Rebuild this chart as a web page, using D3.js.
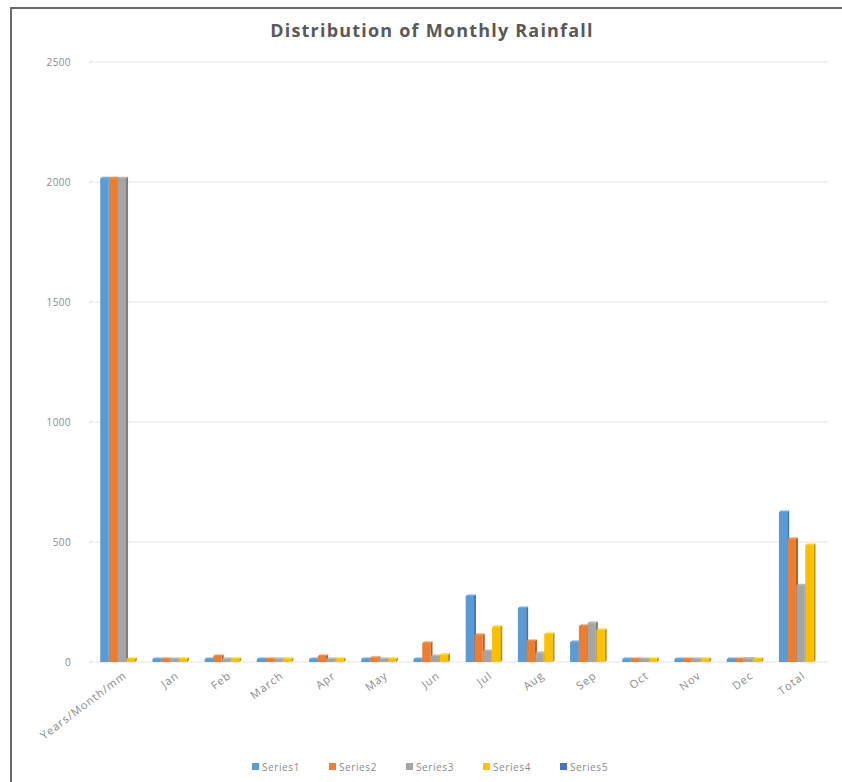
<!DOCTYPE html>
<html>
<head>
<title>Distribution of Monthly Rainfall</title>
<script src="https://cdnjs.cloudflare.com/ajax/libs/d3/7.8.5/d3.min.js"></script>
<style>
 body { margin: 0; background: #fff; }
 text { font-family: "Open Sans", "Liberation Sans", sans-serif; }
</style>
</head>
<body>
<svg id="chart" width="842" height="782"></svg>
<script>
// data
var categories = ["Years/Month/mm", "Jan", "Feb", "March", "Apr", "May", "Jun",
                  "Jul", "Aug", "Sep", "Oct", "Nov", "Dec", "Total"];
var seriesNames = ["Series1", "Series2", "Series3", "Series4", "Series5"];
var series1 = [2016, 3, 12, 8, 3, 12, 3, 275, 225, 83, 3, 2, 3, 625];
var series2 = [2016, 3, 25, 8, 25, 18, 79, 112, 88, 150, 3, 2, 3, 512];
var series3 = [2016, 8, 5, 3, 10, 3, 25, 46, 37, 162, 12, 2, 15, 320];
var series4 = [3, 5, 13, 6, 10, 6, 30, 146, 117, 133, 6, 2, 8, 487];
var series5 = [0, 0, 0, 0, 0, 0, 0, 0, 0, 0, 0, 0, 0, 0];
var yTicks = [0, 500, 1000, 1500, 2000, 2500];
var colors = ["#5b9bd5", "#ed7d31", "#a5a5a5", "#ffc000", "#4472c4"];

var allSeries = [series1, series2, series3, series4, series5];

var svg = d3.select("#chart");

// frame
svg.append("path")
  .attr("d", "M11,782 V8 H842")
  .attr("fill", "none")
  .attr("stroke", "#6b6b6b")
  .attr("stroke-width", 2);

var y = d3.scaleLinear().domain([0, 2500]).range([662, 62]);
var x0 = d3.scaleBand().domain(categories).range([95, 828])
  .paddingInner(0.16).paddingOuter(0.1);
var x1 = d3.scaleBand().domain(seriesNames).range([0, x0.bandwidth()]);

// title
svg.append("text")
  .attr("x", 432).attr("y", 37)
  .attr("text-anchor", "middle")
  .attr("font-size", 18).attr("font-weight", "bold")
  .attr("letter-spacing", 1.2)
  .attr("fill", "#595959")
  .text("Distribution of Monthly Rainfall");

// gridlines + y labels
var yg = svg.append("g");
yTicks.forEach(function(t) {
  yg.append("line")
    .attr("x1", 95).attr("x2", 828)
    .attr("y1", y(t)).attr("y2", y(t))
    .attr("stroke", "#e3e3e3").attr("stroke-width", 1);
  yg.append("line")
    .attr("x1", 89).attr("x2", 93)
    .attr("y1", y(t) + 1).attr("y2", y(t) - 1)
    .attr("stroke", "#d0d0d0");
  yg.append("text")
    .attr("x", 71).attr("y", y(t))
    .attr("dy", "0.35em")
    .attr("text-anchor", "end")
    .attr("font-size", 10).attr("letter-spacing", 0.4)
    .attr("fill", "#8a8a8a")
    .text(t);
});

// bars with a little depth
var groups = svg.append("g").selectAll("g")
  .data(categories)
  .enter().append("g")
  .attr("transform", function(d) { return "translate(" + x0(d) + ",0)"; });

groups.each(function(c, ci) {
  var g = d3.select(this);
  allSeries.forEach(function(s, si) {
    var v = s[ci];
    if (!v) return;
    var bx = x1(seriesNames[si]);
    var w = x1.bandwidth() - 0.5;
    var top = Math.min(y(v), y(0) - 3);
    var col = d3.color(colors[si]);
    // side face
    g.append("path")
      .attr("d", "M" + (bx + w) + "," + top + " L" + (bx + w + 2) + "," + (top - 1.5) +
                 " L" + (bx + w + 2) + "," + (y(0) - 1.5) + " L" + (bx + w) + "," + y(0) + " Z")
      .attr("fill", col.darker(0.8));
    // top face
    g.append("path")
      .attr("d", "M" + bx + "," + top + " L" + (bx + 2) + "," + (top - 1.5) +
                 " L" + (bx + w + 2) + "," + (top - 1.5) + " L" + (bx + w) + "," + top + " Z")
      .attr("fill", col.brighter(0.3));
    // front
    g.append("rect")
      .attr("x", bx).attr("y", top)
      .attr("width", w).attr("height", y(0) - top)
      .attr("fill", colors[si]);
  });
});

// x labels
svg.append("g").selectAll("text")
  .data(categories)
  .enter().append("text")
  .attr("transform", function(d) {
    return "translate(" + (x0(d) + x0.bandwidth() / 2 + 3) + ",674) rotate(-37)";
  })
  .attr("text-anchor", "end")
  .attr("dy", "0.35em")
  .attr("font-size", 11).attr("letter-spacing", 1)
  .attr("fill", "#8a8a8a")
  .text(function(d) { return d; });

// legend
var legX = [252, 329, 406, 483, 560];
var leg = svg.append("g").selectAll("g")
  .data(seriesNames)
  .enter().append("g")
  .attr("transform", function(d, i) { return "translate(" + legX[i] + ",763)"; });
leg.append("rect")
  .attr("width", 7).attr("height", 7)
  .attr("fill", function(d, i) { return colors[i]; });
leg.append("text")
  .attr("x", 10).attr("y", 4)
  .attr("dy", "0.35em")
  .attr("font-size", 10).attr("letter-spacing", 0.6)
  .attr("fill", "#8a8a8a")
  .text(function(d) { return d; });
</script>
</body>
</html>
